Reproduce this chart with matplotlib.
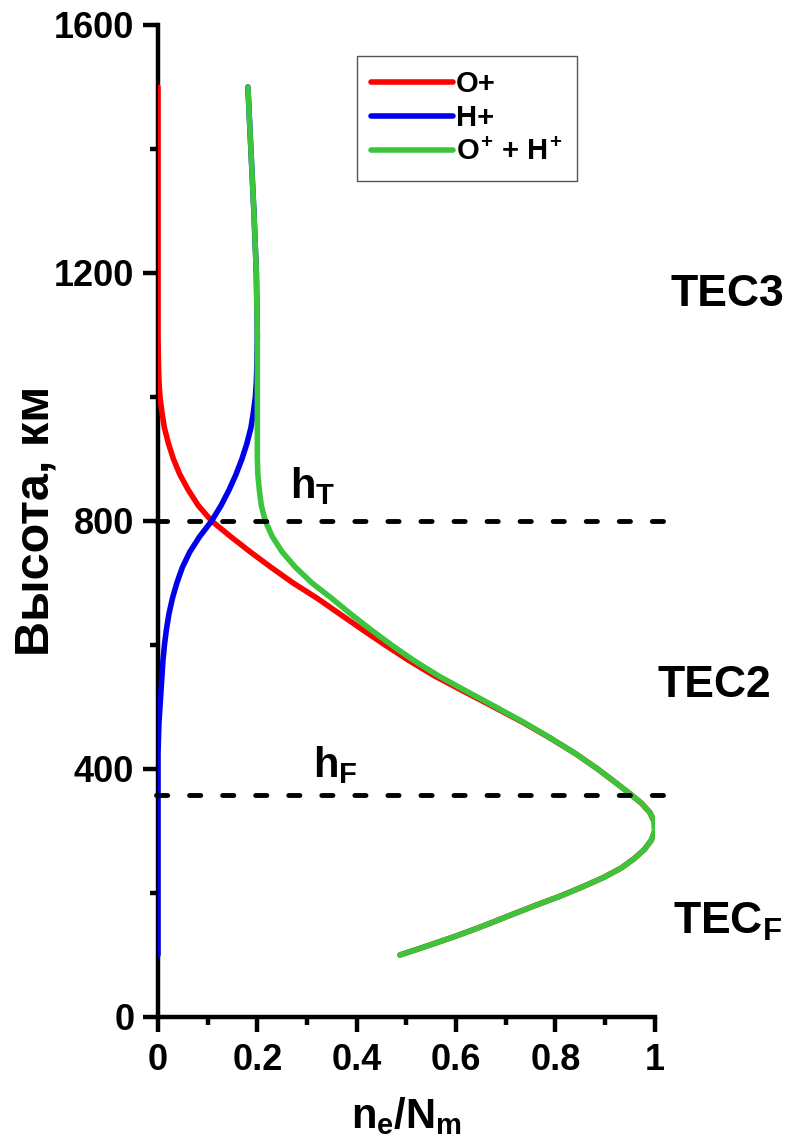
import matplotlib
matplotlib.use("Agg")
import matplotlib.pyplot as plt
from matplotlib.ticker import MultipleLocator, FixedLocator

# heights (km) and normalised densities
heights = [100, 110, 120, 130, 140, 150, 165, 180, 195, 210, 225, 240, 255, 270, 285,
           300, 315, 330, 345, 360, 380, 400, 425, 450, 475, 500, 525, 550, 575, 600,
           625, 650, 675, 700, 725, 750, 775, 800, 825, 850, 875, 900, 925, 950, 975,
           1000, 1025, 1050, 1100, 1200, 1300, 1400, 1500]
o_plus = [0.487, 0.525, 0.562, 0.598, 0.632, 0.665, 0.712, 0.76, 0.81, 0.855, 0.897,
          0.932, 0.958, 0.979, 0.993, 1.0, 0.999, 0.99, 0.973, 0.95, 0.918, 0.885,
          0.84, 0.789, 0.735, 0.676, 0.616, 0.557, 0.505, 0.457, 0.411, 0.366, 0.321,
          0.272, 0.228, 0.186, 0.146, 0.108, 0.081, 0.061, 0.044, 0.031, 0.021, 0.013,
          0.008, 0.004, 0.002, 0.001, 0.0, 0.0, 0.0, 0.0, 0.0]
h_plus = [0.0, 0.0, 0.0, 0.0, 0.0, 0.0, 0.0, 0.0, 0.0, 0.0, 0.0,
          0.0, 0.0, 0.0, 0.0, 0.0, 0.0, 0.0, 0.0, 0.0, 0.0, 0.0,
          0.0, 0.001, 0.002, 0.004, 0.006, 0.008, 0.01, 0.013, 0.017, 0.022, 0.029,
          0.038, 0.049, 0.064, 0.084, 0.108, 0.127, 0.143, 0.157, 0.169, 0.179, 0.187,
          0.192, 0.196, 0.198, 0.199, 0.2, 0.198, 0.193, 0.187, 0.181]
total = [0.487, 0.525, 0.562, 0.598, 0.632, 0.665, 0.712, 0.76, 0.81, 0.855, 0.897,
         0.932, 0.958, 0.979, 0.993, 1.0, 0.999, 0.99, 0.973, 0.95, 0.918, 0.885,
         0.84, 0.79, 0.737, 0.68, 0.622, 0.565, 0.515, 0.47, 0.428, 0.388, 0.35,
         0.31, 0.277, 0.25, 0.23, 0.216, 0.208, 0.204, 0.201, 0.2, 0.2, 0.2,
         0.2, 0.2, 0.2, 0.2, 0.2, 0.198, 0.193, 0.187, 0.181]

h_T = 800
h_F = 358

x_ticks = [0, 0.2, 0.4, 0.6, 0.8, 1.0]
x_tick_labels = ["0", "0.2", "0.4", "0.6", "0.8", "1"]
y_ticks = [0, 400, 800, 1200, 1600]

plt.rcParams['font.family'] = ['Liberation Sans', 'DejaVu Sans']
plt.rcParams['font.weight'] = 'bold'
plt.rcParams['mathtext.fontset'] = 'custom'
plt.rcParams['mathtext.rm'] = 'Liberation Sans:bold'
plt.rcParams['mathtext.it'] = 'Liberation Sans:bold'
plt.rcParams['mathtext.bf'] = 'Liberation Sans:bold'


def main():
    fig = plt.figure(figsize=(7.86, 11.35), dpi=100)
    ax = fig.add_axes([0.201, 0.104, 0.632, 0.874])

    ax.plot(o_plus, heights, color='#ff0000', lw=4, label='O+', solid_capstyle='round',
            solid_joinstyle='round', zorder=3)
    ax.plot(h_plus, heights, color='#0000ee', lw=4, label='H+', solid_capstyle='round',
            solid_joinstyle='round', zorder=4)
    ax.plot(total, heights, color='#3cc43c', lw=4, label=r'$O^{+}$ + $H^{+}$',
            solid_capstyle='round', solid_joinstyle='round', zorder=5)

    for h in (h_T, h_F):
        ax.plot([-0.005, 1.03], [h, h], color='black', lw=3.5, ls=(0, (2.3, 4.5)),
                dash_capstyle='round', clip_on=False, zorder=6)

    ax.text(0.266, 837, r'$h_T$', fontsize=30, ha='left', va='baseline')
    ax.text(0.312, 387, r'$h_F$', fontsize=30, ha='left', va='baseline')

    ax.text(1.032, 1165, 'TEC3', fontsize=32, fontweight='bold', ha='left', va='center',
            clip_on=False)
    ax.text(1.006, 535, 'TEC2', fontsize=32, fontweight='bold', ha='left', va='center',
            clip_on=False)
    ax.text(1.036, 153, r'$TEC_F$', fontsize=32, ha='left', va='center', clip_on=False)

    ax.set_xlim(0, 1)
    ax.set_ylim(0, 1600)
    ax.spines['top'].set_visible(False)
    ax.spines['right'].set_visible(False)
    for s in ('left', 'bottom'):
        ax.spines[s].set_linewidth(3.2)
        ax.spines[s].set_capstyle('projecting')

    ax.xaxis.set_major_locator(FixedLocator(x_ticks))
    ax.set_xticklabels(x_tick_labels)
    ax.xaxis.set_minor_locator(MultipleLocator(0.1))
    ax.yaxis.set_major_locator(FixedLocator(y_ticks))
    ax.yaxis.set_minor_locator(MultipleLocator(200))
    ax.tick_params(which='major', direction='out', length=11, width=3.2, labelsize=26, pad=6)
    ax.tick_params(axis='x', which='major', pad=8)
    ax.tick_params(which='minor', direction='out', length=6, width=3.2)
    for lab in ax.get_xticklabels() + ax.get_yticklabels():
        lab.set_fontweight('bold')

    ax.set_xlabel(r'$n_e/N_m$', fontsize=30, labelpad=12)
    ax.set_ylabel('Высота, км', fontsize=35, fontweight='bold', labelpad=-3)

    leg = ax.legend(loc='upper left', bbox_to_anchor=(0.40, 0.969), borderaxespad=0,
                    fontsize=21, handlelength=2.8, handletextpad=0.1, labelspacing=0.2,
                    fancybox=False, framealpha=1, borderpad=0.5)
    leg.get_frame().set_edgecolor('#555555')
    leg.get_frame().set_linewidth(1)
    for t in leg.get_texts():
        t.set_fontweight('bold')

    fig.savefig('out.png', dpi=100)


if __name__ == "__main__":
    main()
